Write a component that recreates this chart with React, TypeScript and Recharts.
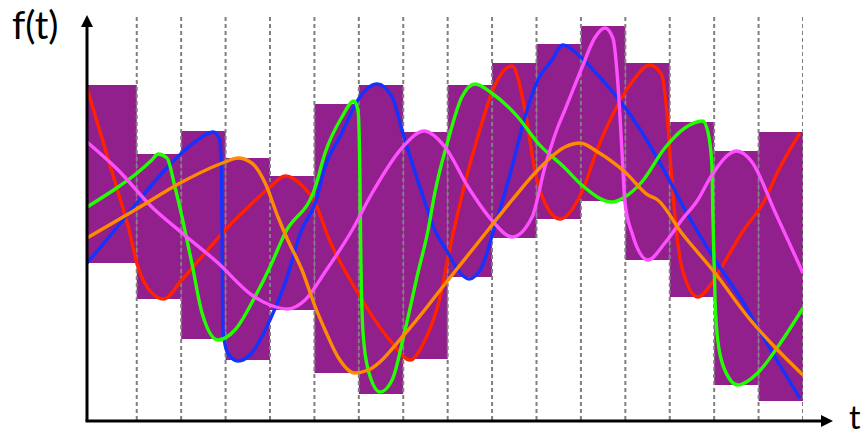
import { ComposedChart, Line, ReferenceArea, XAxis, YAxis } from 'recharts'

// bounding boxes over 16 time intervals (first one is clipped by the f axis)
const intervalStarts = [-0.12, 1, 2, 3, 4, 5, 6, 7, 8, 9, 10, 11, 12, 13, 14, 15]
const intervalEnds = [1, 2, 3, 4, 5, 6, 7, 8, 9, 10, 11, 12, 13, 14, 15, 16]
const boxLow = [157, 121, 81, 60, 110, 47, 26, 61, 143, 182, 201, 219, 160, 123, 35, 19]
const boxHigh = [335, 266, 289, 262, 244, 316, 335, 288, 335, 357, 376, 394, 357, 298, 269, 288]

const gridTicks = [1, 2, 3, 4, 5, 6, 7, 8, 9, 10, 11, 12, 13, 14, 15, 16]
const gridSpan = [0, 404]

const redT = [-0.12, 0.585, 0.81, 1, 1.34, 1.61, 2.01, 2.46, 2.99, 3.44, 4, 4.34, 4.71, 5.02, 5.31, 5.98, 6.75, 7.15, 7.49, 7.83, 8.01, 8.39, 8.77, 8.99, 9.45, 9.74, 9.96, 10.19, 10.53, 11.02, 11.38, 11.83, 12.15, 12.55, 12.82, 12.94, 13.05, 13.12, 13.27, 13.63, 13.95, 14.17, 14.62, 15.14, 15.43, 15.93]
const redV = [332, 227, 193, 157, 127, 121, 140, 163, 190, 210, 233, 244, 235, 217, 183, 127, 77, 60, 80, 123, 163, 237, 297, 327, 354, 310, 250, 217, 201, 228, 272, 315, 338, 355, 345, 305, 238, 202, 153, 123, 137, 153, 187, 220, 248, 287]

const blueT = [-0.12, 0.32, 1, 1.49, 2.01, 2.31, 2.72, 2.87, 2.91, 2.92, 2.94, 3.05, 3.28, 3.59, 4, 4.34, 4.71, 5.02, 5.24, 5.62, 5.98, 6.41, 6.75, 6.99, 7.42, 7.71, 8.01, 8.23, 8.48, 8.77, 8.99, 9.45, 9.74, 10.03, 10.35, 10.59, 11.02, 11.38, 11.83, 12.37, 12.89, 13.41, 14.02, 14.62, 15.14, 15.93]
const blueV = [157, 180, 217, 243, 267, 278, 288, 280, 243, 190, 90, 67, 59, 67, 100, 137, 190, 217, 253, 287, 320, 336, 323, 287, 227, 190, 167, 150, 141, 153, 183, 253, 303, 340, 360, 375, 362, 345, 322, 288, 248, 205, 160, 120, 80, 22]

const greenT = [-0.12, 0.58, 1.01, 1.34, 1.48, 1.68, 1.86, 2.02, 2.13, 2.24, 2.47, 2.83, 3.21, 3.66, 4, 4.34, 5.02, 5.24, 5.62, 5.89, 5.98, 6.02, 6.04, 6.09, 6.21, 6.48, 6.75, 7.04, 7.33, 7.56, 7.71, 8.01, 8.32, 8.62, 8.99, 9.58, 10.03, 10.64, 11.02, 11.7, 11.99, 12.37, 12.89, 13.34, 13.74, 13.86, 13.95, 13.97, 14.02, 14.08, 14.24, 14.53, 14.98, 15.43, 16]
const greenV = [213, 233, 247, 260, 266, 262, 233, 203, 180, 157, 107, 80, 90, 123, 153, 187, 233, 267, 303, 319, 310, 260, 180, 90, 50, 28, 40, 90, 147, 190, 227, 280, 323, 336, 327, 303, 277, 252, 235, 218, 223, 238, 272, 292, 299, 288, 255, 205, 120, 80, 50, 35, 47, 73, 112]

const magentaT = [-0.12, 0.58, 1.34, 2.02, 2.83, 3.59, 4, 4.4, 4.79, 5.24, 5.85, 6.3, 6.99, 7.47, 7.94, 8.46, 8.99, 9.45, 9.9, 10.19, 10.48, 10.64, 11.02, 11.31, 11.54, 11.72, 11.83, 11.92, 11.99, 12.15, 12.51, 12.89, 13.27, 13.63, 13.95, 14.51, 14.85, 15.37, 16]
const magentaV = [278, 250, 213, 187, 157, 125, 115, 111, 120, 148, 190, 227, 273, 289, 273, 233, 200, 183, 203, 253, 293, 310, 352, 382, 392, 382, 338, 272, 218, 187, 160, 177, 200, 220, 245, 269, 258, 208, 147]

const orangeT = [-0.12, 0.96, 2.02, 2.99, 3.28, 3.59, 3.89, 4.18, 4.4, 4.72, 5.02, 5.24, 5.53, 5.91, 6.21, 7.11, 8.01, 8.91, 9.45, 10.03, 10.64, 10.98, 11.38, 11.99, 12.51, 12.73, 13.27, 14.02, 14.76, 15.43, 16]
const orangeV = [182, 210, 238, 258, 262, 257, 237, 203, 180, 150, 113, 90, 63, 47, 50, 90, 140, 190, 220, 250, 273, 277, 268, 248, 225, 220, 187, 147, 103, 70, 45]

const toPoints = (ts: number[], vs: number[]) => ts.map((t, i) => ({ t, v: vs[i] }))

const series = [
  { key: 'red', color: '#ff2200', data: toPoints(redT, redV) },
  { key: 'blue', color: '#1433ff', data: toPoints(blueT, blueV) },
  { key: 'green', color: '#22ff00', data: toPoints(greenT, greenV) },
  { key: 'magenta', color: '#ff50ff', data: toPoints(magentaT, magentaV) },
  { key: 'orange', color: '#ff8c00', data: toPoints(orangeT, orangeV) },
]

const W = 867
const H = 436
const LEFT = 87
const TOP = 16
const RIGHT = 803
const BOTTOM = 420

export default function App() {
  return (
    <div style={{ position: 'absolute', left: 0, top: 0, width: W, height: H, background: '#fff' }}>
      <ComposedChart
        width={W}
        height={H}
        margin={{ top: TOP, right: W - RIGHT, bottom: H - BOTTOM, left: LEFT }}
      >
        <XAxis dataKey="t" type="number" domain={[-0.12, 16]} hide allowDataOverflow />
        <YAxis type="number" domain={[0, 404]} hide allowDataOverflow />
        {intervalStarts.map((x1, i) => (
          <ReferenceArea
            key={`box-${i}`}
            x1={x1}
            x2={intervalEnds[i]}
            y1={boxLow[i]}
            y2={boxHigh[i]}
            fill="#911f8c"
            fillOpacity={1}
            stroke="none"
          />
        ))}
        {/* dashed interval borders, drawn as lines so the curves sit on top */}
        {gridTicks.map((t) => (
          <Line
            key={`grid-${t}`}
            data={gridSpan.map((v) => ({ t, v }))}
            dataKey="v"
            type="linear"
            stroke="#808080"
            strokeWidth={2}
            strokeDasharray="4 3"
            dot={false}
            activeDot={false}
            isAnimationActive={false}
          />
        ))}
        {series.map((s) => (
          <Line
            key={s.key}
            data={s.data}
            dataKey="v"
            type="monotone"
            stroke={s.color}
            strokeWidth={3.4}
            dot={false}
            activeDot={false}
            isAnimationActive={false}
          />
        ))}
      </ComposedChart>
      <svg
        width={W}
        height={H}
        style={{ position: 'absolute', left: 0, top: 0, pointerEvents: 'none' }}
      >
        <line x1={LEFT} y1={421} x2={LEFT} y2={24} stroke="#000" strokeWidth={3} />
        <polygon points={`${LEFT - 6},27 ${LEFT},15 ${LEFT + 6},27`} fill="#000" />
        <line x1={LEFT - 1.5} y1={421} x2={824} y2={421} stroke="#000" strokeWidth={3} />
        <polygon points={`821,415 833,421 821,427`} fill="#000" />
        <text x={12} y={39} fontFamily="Lato, sans-serif" fontSize={38} fill="#000">
          f(t)
        </text>
        <text x={849} y={429} fontFamily="Lato, sans-serif" fontSize={32} fill="#000">
          t
        </text>
      </svg>
    </div>
  )
}
